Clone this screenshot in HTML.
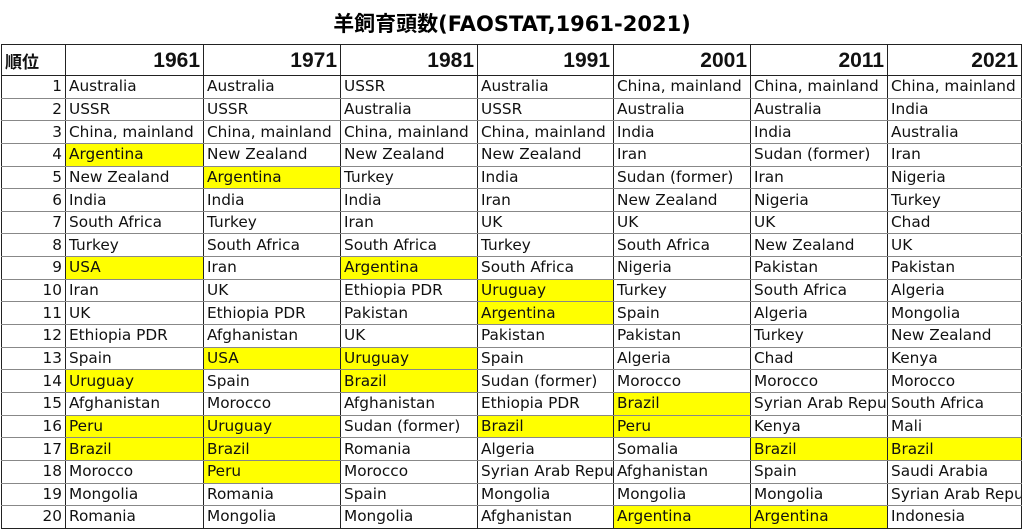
<!DOCTYPE html>
<html><head><meta charset="utf-8"><style>
html,body{margin:0;padding:0;background:#fff;width:1024px;height:529px;overflow:hidden}
.t{position:absolute;left:0;top:8px;width:1024px;text-align:center;font:bold 21px "DejaVu Sans","Noto Sans CJK JP",sans-serif;color:#000;letter-spacing:0}
table{position:absolute;left:1px;top:44px;width:1020px;border-collapse:collapse;table-layout:fixed;font-family:"DejaVu Sans","Noto Sans CJK JP",sans-serif;font-size:15.3px;color:#111}
td{border-left:1.5px solid #222;border-right:1.5px solid #222;border-top:1px solid #888;border-bottom:1px solid #888;height:21.65px;padding:0 0 0 3px;white-space:nowrap;overflow:hidden;text-overflow:clip;line-height:21px;max-width:0}
tr.h td{height:30px;font-size:21px;font-family:"Liberation Sans",sans-serif;font-weight:bold;text-align:right;padding-right:3px;border-top:1.5px solid #222;border-bottom:1.5px solid #222}
tr.h td:first-child{text-align:left;font-size:17px;padding-left:3px;font-family:"Noto Sans CJK JP",sans-serif}
td.n{text-align:right;padding-right:3px;padding-left:0}
tr:last-child td{border-bottom:1.5px solid #222}
.y{background:#ffff00}
</style></head><body>
<div class="t">羊飼育頭数(FAOSTAT,1961-2021)</div>
<table>
<colgroup><col style="width:64px"><col style="width:138px"><col style="width:137px"><col style="width:137px"><col style="width:136px"><col style="width:137px"><col style="width:137px"><col style="width:134px"></colgroup>
<tr class="h"><td>順位</td><td>1961</td><td>1971</td><td>1981</td><td>1991</td><td>2001</td><td>2011</td><td>2021</td></tr>
<tr><td class="n">1</td><td>Australia</td><td>Australia</td><td>USSR</td><td>Australia</td><td>China, mainland</td><td>China, mainland</td><td>China, mainland</td></tr>
<tr><td class="n">2</td><td>USSR</td><td>USSR</td><td>Australia</td><td>USSR</td><td>Australia</td><td>Australia</td><td>India</td></tr>
<tr><td class="n">3</td><td>China, mainland</td><td>China, mainland</td><td>China, mainland</td><td>China, mainland</td><td>India</td><td>India</td><td>Australia</td></tr>
<tr><td class="n">4</td><td class="y">Argentina</td><td>New Zealand</td><td>New Zealand</td><td>New Zealand</td><td>Iran</td><td>Sudan (former)</td><td>Iran</td></tr>
<tr><td class="n">5</td><td>New Zealand</td><td class="y">Argentina</td><td>Turkey</td><td>India</td><td>Sudan (former)</td><td>Iran</td><td>Nigeria</td></tr>
<tr><td class="n">6</td><td>India</td><td>India</td><td>India</td><td>Iran</td><td>New Zealand</td><td>Nigeria</td><td>Turkey</td></tr>
<tr><td class="n">7</td><td>South Africa</td><td>Turkey</td><td>Iran</td><td>UK</td><td>UK</td><td>UK</td><td>Chad</td></tr>
<tr><td class="n">8</td><td>Turkey</td><td>South Africa</td><td>South Africa</td><td>Turkey</td><td>South Africa</td><td>New Zealand</td><td>UK</td></tr>
<tr><td class="n">9</td><td class="y">USA</td><td>Iran</td><td class="y">Argentina</td><td>South Africa</td><td>Nigeria</td><td>Pakistan</td><td>Pakistan</td></tr>
<tr><td class="n">10</td><td>Iran</td><td>UK</td><td>Ethiopia PDR</td><td class="y">Uruguay</td><td>Turkey</td><td>South Africa</td><td>Algeria</td></tr>
<tr><td class="n">11</td><td>UK</td><td>Ethiopia PDR</td><td>Pakistan</td><td class="y">Argentina</td><td>Spain</td><td>Algeria</td><td>Mongolia</td></tr>
<tr><td class="n">12</td><td>Ethiopia PDR</td><td>Afghanistan</td><td>UK</td><td>Pakistan</td><td>Pakistan</td><td>Turkey</td><td>New Zealand</td></tr>
<tr><td class="n">13</td><td>Spain</td><td class="y">USA</td><td class="y">Uruguay</td><td>Spain</td><td>Algeria</td><td>Chad</td><td>Kenya</td></tr>
<tr><td class="n">14</td><td class="y">Uruguay</td><td>Spain</td><td class="y">Brazil</td><td>Sudan (former)</td><td>Morocco</td><td>Morocco</td><td>Morocco</td></tr>
<tr><td class="n">15</td><td>Afghanistan</td><td>Morocco</td><td>Afghanistan</td><td>Ethiopia PDR</td><td class="y">Brazil</td><td>Syrian Arab Republic</td><td>South Africa</td></tr>
<tr><td class="n">16</td><td class="y">Peru</td><td class="y">Uruguay</td><td>Sudan (former)</td><td class="y">Brazil</td><td class="y">Peru</td><td>Kenya</td><td>Mali</td></tr>
<tr><td class="n">17</td><td class="y">Brazil</td><td class="y">Brazil</td><td>Romania</td><td>Algeria</td><td>Somalia</td><td class="y">Brazil</td><td class="y">Brazil</td></tr>
<tr><td class="n">18</td><td>Morocco</td><td class="y">Peru</td><td>Morocco</td><td>Syrian Arab Republic</td><td>Afghanistan</td><td>Spain</td><td>Saudi Arabia</td></tr>
<tr><td class="n">19</td><td>Mongolia</td><td>Romania</td><td>Spain</td><td>Mongolia</td><td>Mongolia</td><td>Mongolia</td><td>Syrian Arab Republic</td></tr>
<tr><td class="n">20</td><td>Romania</td><td>Mongolia</td><td>Mongolia</td><td>Afghanistan</td><td class="y">Argentina</td><td class="y">Argentina</td><td>Indonesia</td></tr>
</table>
</body></html>
